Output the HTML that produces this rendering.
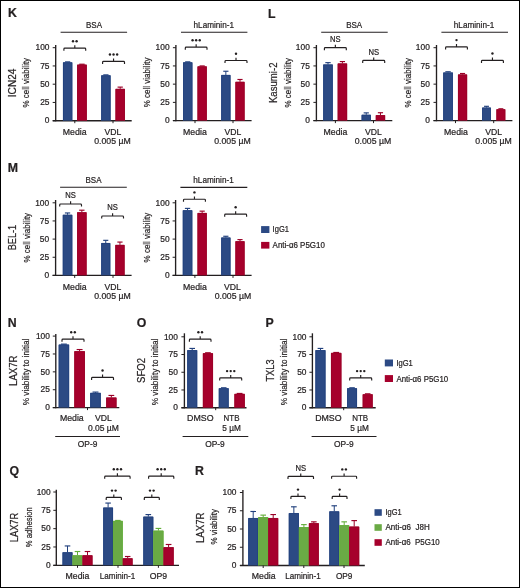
<!DOCTYPE html>
<html><head><meta charset="utf-8"><style>
html,body{margin:0;padding:0;background:#fff;}
body{width:520px;height:588px;overflow:hidden;position:relative;}
#frame{position:absolute;left:0;top:0;width:518px;height:586px;border:1px solid #000;}
svg{position:absolute;left:0;top:0;font-family:"Liberation Sans", sans-serif;will-change:transform;}
text{stroke:#231F20;stroke-width:0.22px;}
</style></head><body>
<div id="frame"></div>
<svg width="520" height="588" viewBox="0 0 520 588">
<text x="8.0" y="17.3" font-size="12.3" text-anchor="start" font-weight="bold" fill="#231F20">K</text>
<line x1="55.7" y1="45.0" x2="55.7" y2="121.3" stroke="#231F20" stroke-width="1.35"/>
<line x1="52.7" y1="120.7" x2="131.7" y2="120.7" stroke="#231F20" stroke-width="1.35"/>
<line x1="52.7" y1="120.7" x2="55.7" y2="120.7" stroke="#231F20" stroke-width="1.0"/>
<text x="49.5" y="123.4" font-size="8.4" text-anchor="end" fill="#231F20">0</text>
<line x1="52.7" y1="102.45" x2="55.7" y2="102.45" stroke="#231F20" stroke-width="1.0"/>
<text x="49.5" y="105.15" font-size="8.4" text-anchor="end" fill="#231F20">25</text>
<line x1="52.7" y1="84.2" x2="55.7" y2="84.2" stroke="#231F20" stroke-width="1.0"/>
<text x="49.5" y="86.9" font-size="8.4" text-anchor="end" fill="#231F20">50</text>
<line x1="52.7" y1="65.95" x2="55.7" y2="65.95" stroke="#231F20" stroke-width="1.0"/>
<text x="49.5" y="68.65" font-size="8.4" text-anchor="end" fill="#231F20">75</text>
<line x1="52.7" y1="47.7" x2="55.7" y2="47.7" stroke="#231F20" stroke-width="1.0"/>
<text x="49.5" y="50.400000000000006" font-size="8.4" text-anchor="end" fill="#231F20">100</text>
<rect x="63.00" y="62.30" width="9.30" height="58.40" fill="#2C4A84"/>
<path d="M63.40,120.70V62.70H71.90V120.70" fill="none" stroke="#21407D" stroke-width="0.8"/>
<rect x="65.05" y="61.30" width="5.21" height="1.2" fill="#21407D"/>
<rect x="77.10" y="64.64" width="9.70" height="56.06" fill="#A6002C"/>
<path d="M77.50,120.70V65.04H86.40V120.70" fill="none" stroke="#9A0027" stroke-width="0.8"/>
<rect x="79.23" y="63.64" width="5.43" height="1.2" fill="#9A0027"/>
<rect x="101.20" y="75.29" width="9.40" height="45.41" fill="#2C4A84"/>
<path d="M101.60,120.70V75.69H110.20V120.70" fill="none" stroke="#21407D" stroke-width="0.8"/>
<rect x="103.27" y="74.29" width="5.26" height="1.2" fill="#21407D"/>
<rect x="115.50" y="88.87" width="9.40" height="31.83" fill="#A6002C"/>
<path d="M115.90,120.70V89.27H124.50V120.70" fill="none" stroke="#9A0027" stroke-width="0.8"/>
<line x1="120.2" y1="88.872" x2="120.2" y2="87.12" stroke="#9A0027" stroke-width="1.0"/>
<line x1="117.568" y1="87.12" x2="122.83200000000001" y2="87.12" stroke="#9A0027" stroke-width="1.15"/>
<line x1="74.8" y1="120.7" x2="74.8" y2="123.2" stroke="#231F20" stroke-width="1.0"/>
<line x1="113.0" y1="120.7" x2="113.0" y2="123.2" stroke="#231F20" stroke-width="1.0"/>
<path d="M63.90,50.70 L63.90,49.00 Q63.90,48.10 64.80,48.10 L84.80,48.10 Q85.70,48.10 85.70,49.00 L85.70,50.70 M74.80,48.10 L74.80,45.30" fill="none" stroke="#231F20" stroke-width="1.15"/>
<circle cx="73.00" cy="41.30" r="1.2" fill="#231F20"/>
<circle cx="76.60" cy="41.30" r="1.2" fill="#231F20"/>
<path d="M102.60,63.95 L102.60,62.25 Q102.60,61.35 103.50,61.35 L123.60,61.35 Q124.50,61.35 124.50,62.25 L124.50,63.95 M113.55,61.35 L113.55,58.55" fill="none" stroke="#231F20" stroke-width="1.15"/>
<circle cx="109.95" cy="54.55" r="1.2" fill="#231F20"/>
<circle cx="113.55" cy="54.55" r="1.2" fill="#231F20"/>
<circle cx="117.15" cy="54.55" r="1.2" fill="#231F20"/>
<text x="94.0" y="27.6" font-size="8.8" text-anchor="middle" textLength="16.0" lengthAdjust="spacingAndGlyphs" fill="#231F20">BSA</text>
<line x1="60.6" y1="32.2" x2="127.1" y2="32.2" stroke="#231F20" stroke-width="1.1"/>
<text x="74.7" y="134.6" font-size="8.8" text-anchor="middle" textLength="23.8" lengthAdjust="spacingAndGlyphs" fill="#231F20">Media</text>
<text x="113.0" y="134.6" font-size="8.8" text-anchor="middle" textLength="16.8" lengthAdjust="spacingAndGlyphs" fill="#231F20">VDL</text>
<text x="112.5" y="144.4" font-size="8.8" text-anchor="middle" textLength="36.5" lengthAdjust="spacingAndGlyphs" fill="#231F20">0.005 µM</text>
<text transform="translate(15.8,82.9) rotate(-90)" font-size="10.1" text-anchor="middle" textLength="28.6" lengthAdjust="spacingAndGlyphs" fill="#231F20">ICN24</text>
<text transform="translate(28.8,82.7) rotate(-90)" font-size="9.8" text-anchor="middle" textLength="49.6" lengthAdjust="spacingAndGlyphs" fill="#231F20">% cell viability</text>
<line x1="175.9" y1="45.0" x2="175.9" y2="121.19999999999999" stroke="#231F20" stroke-width="1.35"/>
<line x1="172.9" y1="120.6" x2="251.6" y2="120.6" stroke="#231F20" stroke-width="1.35"/>
<line x1="172.9" y1="120.6" x2="175.9" y2="120.6" stroke="#231F20" stroke-width="1.0"/>
<text x="169.6" y="123.3" font-size="8.4" text-anchor="end" fill="#231F20">0</text>
<line x1="172.9" y1="102.375" x2="175.9" y2="102.375" stroke="#231F20" stroke-width="1.0"/>
<text x="169.6" y="105.075" font-size="8.4" text-anchor="end" fill="#231F20">25</text>
<line x1="172.9" y1="84.15" x2="175.9" y2="84.15" stroke="#231F20" stroke-width="1.0"/>
<text x="169.6" y="86.85000000000001" font-size="8.4" text-anchor="end" fill="#231F20">50</text>
<line x1="172.9" y1="65.92500000000001" x2="175.9" y2="65.92500000000001" stroke="#231F20" stroke-width="1.0"/>
<text x="169.6" y="68.62500000000001" font-size="8.4" text-anchor="end" fill="#231F20">75</text>
<line x1="172.9" y1="47.7" x2="175.9" y2="47.7" stroke="#231F20" stroke-width="1.0"/>
<text x="169.6" y="50.400000000000006" font-size="8.4" text-anchor="end" fill="#231F20">100</text>
<rect x="183.10" y="62.28" width="9.30" height="58.32" fill="#2C4A84"/>
<path d="M183.50,120.60V62.68H192.00V120.60" fill="none" stroke="#21407D" stroke-width="0.8"/>
<rect x="185.15" y="61.28" width="5.21" height="1.2" fill="#21407D"/>
<rect x="197.50" y="66.36" width="9.30" height="54.24" fill="#A6002C"/>
<path d="M197.90,120.60V66.76H206.40V120.60" fill="none" stroke="#9A0027" stroke-width="0.8"/>
<rect x="199.55" y="65.36" width="5.21" height="1.2" fill="#9A0027"/>
<rect x="221.20" y="74.96" width="9.30" height="45.64" fill="#2C4A84"/>
<path d="M221.60,120.60V75.36H230.10V120.60" fill="none" stroke="#21407D" stroke-width="0.8"/>
<line x1="225.85" y1="74.96459999999999" x2="225.85" y2="71.2467" stroke="#21407D" stroke-width="1.0"/>
<line x1="223.24599999999998" y1="71.2467" x2="228.454" y2="71.2467" stroke="#21407D" stroke-width="1.15"/>
<rect x="235.40" y="81.82" width="9.20" height="38.78" fill="#A6002C"/>
<path d="M235.80,120.60V82.22H244.20V120.60" fill="none" stroke="#9A0027" stroke-width="0.8"/>
<line x1="240.0" y1="81.8172" x2="240.0" y2="79.4844" stroke="#9A0027" stroke-width="1.0"/>
<line x1="237.424" y1="79.4844" x2="242.576" y2="79.4844" stroke="#9A0027" stroke-width="1.15"/>
<line x1="195.0" y1="120.6" x2="195.0" y2="123.1" stroke="#231F20" stroke-width="1.0"/>
<line x1="233.0" y1="120.6" x2="233.0" y2="123.1" stroke="#231F20" stroke-width="1.0"/>
<path d="M185.30,49.70 L185.30,48.00 Q185.30,47.10 186.20,47.10 L206.10,47.10 Q207.00,47.10 207.00,48.00 L207.00,49.70 M196.15,47.10 L196.15,44.30" fill="none" stroke="#231F20" stroke-width="1.15"/>
<circle cx="192.55" cy="40.30" r="1.2" fill="#231F20"/>
<circle cx="196.15" cy="40.30" r="1.2" fill="#231F20"/>
<circle cx="199.75" cy="40.30" r="1.2" fill="#231F20"/>
<path d="M225.00,63.10 L225.00,61.40 Q225.00,60.50 225.90,60.50 L246.10,60.50 Q247.00,60.50 247.00,61.40 L247.00,63.10 M236.00,60.50 L236.00,57.70" fill="none" stroke="#231F20" stroke-width="1.15"/>
<circle cx="236.00" cy="53.70" r="1.2" fill="#231F20"/>
<text x="213.75" y="27.7" font-size="8.8" text-anchor="middle" textLength="40.4" lengthAdjust="spacingAndGlyphs" fill="#231F20">hLaminin-1</text>
<line x1="181.0" y1="32.2" x2="247.4" y2="32.2" stroke="#231F20" stroke-width="1.1"/>
<text x="195.0" y="134.6" font-size="8.8" text-anchor="middle" textLength="23.8" lengthAdjust="spacingAndGlyphs" fill="#231F20">Media</text>
<text x="233.0" y="134.6" font-size="8.8" text-anchor="middle" textLength="16.8" lengthAdjust="spacingAndGlyphs" fill="#231F20">VDL</text>
<text x="232.5" y="144.4" font-size="8.8" text-anchor="middle" textLength="36.5" lengthAdjust="spacingAndGlyphs" fill="#231F20">0.005 µM</text>
<text transform="translate(150.1,82.4) rotate(-90)" font-size="9.8" text-anchor="middle" textLength="49.6" lengthAdjust="spacingAndGlyphs" fill="#231F20">% cell viability</text>
<text x="268.0" y="17.7" font-size="12.3" text-anchor="start" font-weight="bold" fill="#231F20">L</text>
<line x1="316.4" y1="45.0" x2="316.4" y2="121.19999999999999" stroke="#231F20" stroke-width="1.35"/>
<line x1="313.4" y1="120.6" x2="392.3" y2="120.6" stroke="#231F20" stroke-width="1.35"/>
<line x1="313.4" y1="120.6" x2="316.4" y2="120.6" stroke="#231F20" stroke-width="1.0"/>
<text x="309.8" y="123.3" font-size="8.4" text-anchor="end" fill="#231F20">0</text>
<line x1="313.4" y1="102.375" x2="316.4" y2="102.375" stroke="#231F20" stroke-width="1.0"/>
<text x="309.8" y="105.075" font-size="8.4" text-anchor="end" fill="#231F20">25</text>
<line x1="313.4" y1="84.15" x2="316.4" y2="84.15" stroke="#231F20" stroke-width="1.0"/>
<text x="309.8" y="86.85000000000001" font-size="8.4" text-anchor="end" fill="#231F20">50</text>
<line x1="313.4" y1="65.92500000000001" x2="316.4" y2="65.92500000000001" stroke="#231F20" stroke-width="1.0"/>
<text x="309.8" y="68.62500000000001" font-size="8.4" text-anchor="end" fill="#231F20">75</text>
<line x1="313.4" y1="47.7" x2="316.4" y2="47.7" stroke="#231F20" stroke-width="1.0"/>
<text x="309.8" y="50.400000000000006" font-size="8.4" text-anchor="end" fill="#231F20">100</text>
<rect x="323.20" y="64.47" width="9.60" height="56.13" fill="#2C4A84"/>
<path d="M323.60,120.60V64.87H332.40V120.60" fill="none" stroke="#21407D" stroke-width="0.8"/>
<line x1="328.0" y1="64.467" x2="328.0" y2="62.6445" stroke="#21407D" stroke-width="1.0"/>
<line x1="325.312" y1="62.6445" x2="330.688" y2="62.6445" stroke="#21407D" stroke-width="1.15"/>
<rect x="337.70" y="63.45" width="9.40" height="57.15" fill="#A6002C"/>
<path d="M338.10,120.60V63.85H346.70V120.60" fill="none" stroke="#9A0027" stroke-width="0.8"/>
<line x1="342.4" y1="63.4464" x2="342.4" y2="61.550999999999995" stroke="#9A0027" stroke-width="1.0"/>
<line x1="339.768" y1="61.550999999999995" x2="345.032" y2="61.550999999999995" stroke="#9A0027" stroke-width="1.15"/>
<rect x="361.60" y="114.77" width="9.30" height="5.83" fill="#2C4A84"/>
<path d="M362.00,120.60V115.17H370.50V120.60" fill="none" stroke="#21407D" stroke-width="0.8"/>
<line x1="366.25" y1="114.768" x2="366.25" y2="112.87259999999999" stroke="#21407D" stroke-width="1.0"/>
<line x1="363.646" y1="112.87259999999999" x2="368.854" y2="112.87259999999999" stroke="#21407D" stroke-width="1.15"/>
<rect x="375.80" y="115.13" width="9.30" height="5.47" fill="#A6002C"/>
<path d="M376.20,120.60V115.53H384.70V120.60" fill="none" stroke="#9A0027" stroke-width="0.8"/>
<line x1="380.45000000000005" y1="115.1325" x2="380.45000000000005" y2="112.7268" stroke="#9A0027" stroke-width="1.0"/>
<line x1="377.84600000000006" y1="112.7268" x2="383.05400000000003" y2="112.7268" stroke="#9A0027" stroke-width="1.15"/>
<line x1="335.4" y1="120.6" x2="335.4" y2="123.1" stroke="#231F20" stroke-width="1.0"/>
<line x1="373.5" y1="120.6" x2="373.5" y2="123.1" stroke="#231F20" stroke-width="1.0"/>
<path d="M324.40,50.20 L324.40,48.50 Q324.40,47.60 325.30,47.60 L345.40,47.60 Q346.30,47.60 346.30,48.50 L346.30,50.20 M335.35,47.60 L335.35,44.80" fill="none" stroke="#231F20" stroke-width="1.15"/>
<text x="335.35" y="42.0" font-size="8.4" text-anchor="middle" textLength="10.6" lengthAdjust="spacingAndGlyphs" fill="#231F20">NS</text>
<path d="M362.70,62.90 L362.70,61.20 Q362.70,60.30 363.60,60.30 L383.80,60.30 Q384.70,60.30 384.70,61.20 L384.70,62.90 M373.70,60.30 L373.70,57.50" fill="none" stroke="#231F20" stroke-width="1.15"/>
<text x="373.7" y="54.699999999999996" font-size="8.4" text-anchor="middle" textLength="10.6" lengthAdjust="spacingAndGlyphs" fill="#231F20">NS</text>
<text x="354.2" y="27.6" font-size="8.8" text-anchor="middle" textLength="16.0" lengthAdjust="spacingAndGlyphs" fill="#231F20">BSA</text>
<line x1="321.2" y1="32.2" x2="387.7" y2="32.2" stroke="#231F20" stroke-width="1.1"/>
<text x="335.4" y="134.6" font-size="8.8" text-anchor="middle" textLength="23.8" lengthAdjust="spacingAndGlyphs" fill="#231F20">Media</text>
<text x="373.5" y="134.6" font-size="8.8" text-anchor="middle" textLength="16.8" lengthAdjust="spacingAndGlyphs" fill="#231F20">VDL</text>
<text x="373.0" y="144.4" font-size="8.8" text-anchor="middle" textLength="36.5" lengthAdjust="spacingAndGlyphs" fill="#231F20">0.005 µM</text>
<text transform="translate(276.6,82.75) rotate(-90)" font-size="10.0" text-anchor="middle" textLength="40.6" lengthAdjust="spacingAndGlyphs" fill="#231F20">Kasumi-2</text>
<text transform="translate(290.7,82.75) rotate(-90)" font-size="9.8" text-anchor="middle" textLength="49.6" lengthAdjust="spacingAndGlyphs" fill="#231F20">% cell viability</text>
<line x1="436.5" y1="45.0" x2="436.5" y2="121.19999999999999" stroke="#231F20" stroke-width="1.35"/>
<line x1="433.5" y1="120.6" x2="512.4" y2="120.6" stroke="#231F20" stroke-width="1.35"/>
<line x1="433.5" y1="120.6" x2="436.5" y2="120.6" stroke="#231F20" stroke-width="1.0"/>
<text x="429.8" y="123.3" font-size="8.4" text-anchor="end" fill="#231F20">0</text>
<line x1="433.5" y1="102.375" x2="436.5" y2="102.375" stroke="#231F20" stroke-width="1.0"/>
<text x="429.8" y="105.075" font-size="8.4" text-anchor="end" fill="#231F20">25</text>
<line x1="433.5" y1="84.15" x2="436.5" y2="84.15" stroke="#231F20" stroke-width="1.0"/>
<text x="429.8" y="86.85000000000001" font-size="8.4" text-anchor="end" fill="#231F20">50</text>
<line x1="433.5" y1="65.92500000000001" x2="436.5" y2="65.92500000000001" stroke="#231F20" stroke-width="1.0"/>
<text x="429.8" y="68.62500000000001" font-size="8.4" text-anchor="end" fill="#231F20">75</text>
<line x1="433.5" y1="47.7" x2="436.5" y2="47.7" stroke="#231F20" stroke-width="1.0"/>
<text x="429.8" y="50.400000000000006" font-size="8.4" text-anchor="end" fill="#231F20">100</text>
<rect x="443.20" y="72.49" width="9.70" height="48.11" fill="#2C4A84"/>
<path d="M443.60,120.60V72.89H452.50V120.60" fill="none" stroke="#21407D" stroke-width="0.8"/>
<line x1="448.04999999999995" y1="72.48599999999999" x2="448.04999999999995" y2="71.757" stroke="#21407D" stroke-width="1.0"/>
<line x1="445.33399999999995" y1="71.757" x2="450.76599999999996" y2="71.757" stroke="#21407D" stroke-width="1.15"/>
<rect x="458.00" y="74.45" width="9.10" height="46.15" fill="#A6002C"/>
<path d="M458.40,120.60V74.85H466.70V120.60" fill="none" stroke="#9A0027" stroke-width="0.8"/>
<line x1="462.55" y1="74.4543" x2="462.55" y2="73.50659999999999" stroke="#9A0027" stroke-width="1.0"/>
<line x1="460.002" y1="73.50659999999999" x2="465.098" y2="73.50659999999999" stroke="#9A0027" stroke-width="1.15"/>
<rect x="482.10" y="107.55" width="8.80" height="13.05" fill="#2C4A84"/>
<path d="M482.50,120.60V107.95H490.50V120.60" fill="none" stroke="#21407D" stroke-width="0.8"/>
<line x1="486.5" y1="107.5509" x2="486.5" y2="106.3116" stroke="#21407D" stroke-width="1.0"/>
<line x1="484.036" y1="106.3116" x2="488.964" y2="106.3116" stroke="#21407D" stroke-width="1.15"/>
<rect x="496.40" y="109.23" width="8.90" height="11.37" fill="#A6002C"/>
<path d="M496.80,120.60V109.63H504.90V120.60" fill="none" stroke="#9A0027" stroke-width="0.8"/>
<line x1="500.85" y1="109.2276" x2="500.85" y2="108.7902" stroke="#9A0027" stroke-width="1.0"/>
<line x1="498.358" y1="108.7902" x2="503.34200000000004" y2="108.7902" stroke="#9A0027" stroke-width="1.15"/>
<line x1="455.5" y1="120.6" x2="455.5" y2="123.1" stroke="#231F20" stroke-width="1.0"/>
<line x1="493.7" y1="120.6" x2="493.7" y2="123.1" stroke="#231F20" stroke-width="1.0"/>
<path d="M445.60,49.50 L445.60,47.80 Q445.60,46.90 446.50,46.90 L466.50,46.90 Q467.40,46.90 467.40,47.80 L467.40,49.50 M456.50,46.90 L456.50,44.10" fill="none" stroke="#231F20" stroke-width="1.15"/>
<circle cx="456.50" cy="40.10" r="1.2" fill="#231F20"/>
<path d="M481.50,62.90 L481.50,61.20 Q481.50,60.30 482.40,60.30 L502.50,60.30 Q503.40,60.30 503.40,61.20 L503.40,62.90 M492.45,60.30 L492.45,57.50" fill="none" stroke="#231F20" stroke-width="1.15"/>
<circle cx="492.45" cy="53.50" r="1.2" fill="#231F20"/>
<text x="474.0" y="27.7" font-size="8.8" text-anchor="middle" textLength="40.4" lengthAdjust="spacingAndGlyphs" fill="#231F20">hLaminin-1</text>
<line x1="441.4" y1="32.2" x2="508.0" y2="32.2" stroke="#231F20" stroke-width="1.1"/>
<text x="455.9" y="134.6" font-size="8.8" text-anchor="middle" textLength="23.8" lengthAdjust="spacingAndGlyphs" fill="#231F20">Media</text>
<text x="493.7" y="134.6" font-size="8.8" text-anchor="middle" textLength="16.8" lengthAdjust="spacingAndGlyphs" fill="#231F20">VDL</text>
<text x="493.6" y="144.4" font-size="8.8" text-anchor="middle" textLength="36.5" lengthAdjust="spacingAndGlyphs" fill="#231F20">0.005 µM</text>
<text transform="translate(411.0,82.7) rotate(-90)" font-size="9.8" text-anchor="middle" textLength="49.6" lengthAdjust="spacingAndGlyphs" fill="#231F20">% cell viability</text>
<text x="7.8" y="172.0" font-size="12.3" text-anchor="start" font-weight="bold" fill="#231F20">M</text>
<line x1="55.6" y1="200.0" x2="55.6" y2="276.0" stroke="#231F20" stroke-width="1.35"/>
<line x1="52.6" y1="275.4" x2="131.6" y2="275.4" stroke="#231F20" stroke-width="1.35"/>
<line x1="52.6" y1="275.4" x2="55.6" y2="275.4" stroke="#231F20" stroke-width="1.0"/>
<text x="49.2" y="278.09999999999997" font-size="8.4" text-anchor="end" fill="#231F20">0</text>
<line x1="52.6" y1="257.25" x2="55.6" y2="257.25" stroke="#231F20" stroke-width="1.0"/>
<text x="49.2" y="259.95" font-size="8.4" text-anchor="end" fill="#231F20">25</text>
<line x1="52.6" y1="239.1" x2="55.6" y2="239.1" stroke="#231F20" stroke-width="1.0"/>
<text x="49.2" y="241.79999999999998" font-size="8.4" text-anchor="end" fill="#231F20">50</text>
<line x1="52.6" y1="220.95" x2="55.6" y2="220.95" stroke="#231F20" stroke-width="1.0"/>
<text x="49.2" y="223.64999999999998" font-size="8.4" text-anchor="end" fill="#231F20">75</text>
<line x1="52.6" y1="202.8" x2="55.6" y2="202.8" stroke="#231F20" stroke-width="1.0"/>
<text x="49.2" y="205.5" font-size="8.4" text-anchor="end" fill="#231F20">100</text>
<rect x="62.80" y="214.78" width="9.50" height="60.62" fill="#2C4A84"/>
<path d="M63.20,275.40V215.18H71.90V275.40" fill="none" stroke="#21407D" stroke-width="0.8"/>
<line x1="67.55" y1="214.779" x2="67.55" y2="212.964" stroke="#21407D" stroke-width="1.0"/>
<line x1="64.89" y1="212.964" x2="70.21" y2="212.964" stroke="#21407D" stroke-width="1.15"/>
<rect x="77.10" y="212.24" width="9.50" height="63.16" fill="#A6002C"/>
<path d="M77.50,275.40V212.64H86.20V275.40" fill="none" stroke="#9A0027" stroke-width="0.8"/>
<line x1="81.85" y1="212.238" x2="81.85" y2="210.2052" stroke="#9A0027" stroke-width="1.0"/>
<line x1="79.19" y1="210.2052" x2="84.50999999999999" y2="210.2052" stroke="#9A0027" stroke-width="1.15"/>
<rect x="101.20" y="243.02" width="9.10" height="32.38" fill="#2C4A84"/>
<path d="M101.60,275.40V243.42H109.90V275.40" fill="none" stroke="#21407D" stroke-width="0.8"/>
<line x1="105.75" y1="243.0204" x2="105.75" y2="240.3342" stroke="#21407D" stroke-width="1.0"/>
<line x1="103.202" y1="240.3342" x2="108.298" y2="240.3342" stroke="#21407D" stroke-width="1.15"/>
<rect x="115.30" y="244.91" width="9.30" height="30.49" fill="#A6002C"/>
<path d="M115.70,275.40V245.31H124.20V275.40" fill="none" stroke="#9A0027" stroke-width="0.8"/>
<line x1="119.94999999999999" y1="244.908" x2="119.94999999999999" y2="242.07659999999998" stroke="#9A0027" stroke-width="1.0"/>
<line x1="117.34599999999999" y1="242.07659999999998" x2="122.55399999999999" y2="242.07659999999998" stroke="#9A0027" stroke-width="1.15"/>
<line x1="74.7" y1="275.4" x2="74.7" y2="277.9" stroke="#231F20" stroke-width="1.0"/>
<line x1="113.0" y1="275.4" x2="113.0" y2="277.9" stroke="#231F20" stroke-width="1.0"/>
<path d="M59.70,206.60 L59.70,204.90 Q59.70,204.00 60.60,204.00 L80.60,204.00 Q81.50,204.00 81.50,204.90 L81.50,206.60 M70.60,204.00 L70.60,201.20" fill="none" stroke="#231F20" stroke-width="1.15"/>
<text x="70.6" y="198.4" font-size="8.4" text-anchor="middle" textLength="10.6" lengthAdjust="spacingAndGlyphs" fill="#231F20">NS</text>
<path d="M101.70,218.60 L101.70,216.90 Q101.70,216.00 102.60,216.00 L122.60,216.00 Q123.50,216.00 123.50,216.90 L123.50,218.60 M112.60,216.00 L112.60,213.20" fill="none" stroke="#231F20" stroke-width="1.15"/>
<text x="112.6" y="210.4" font-size="8.4" text-anchor="middle" textLength="10.6" lengthAdjust="spacingAndGlyphs" fill="#231F20">NS</text>
<text x="93.5" y="182.6" font-size="8.8" text-anchor="middle" textLength="16.0" lengthAdjust="spacingAndGlyphs" fill="#231F20">BSA</text>
<line x1="60.1" y1="187.3" x2="126.8" y2="187.3" stroke="#231F20" stroke-width="1.1"/>
<text x="74.7" y="289.7" font-size="8.8" text-anchor="middle" textLength="23.8" lengthAdjust="spacingAndGlyphs" fill="#231F20">Media</text>
<text x="113.0" y="289.7" font-size="8.8" text-anchor="middle" textLength="16.8" lengthAdjust="spacingAndGlyphs" fill="#231F20">VDL</text>
<text x="112.5" y="299.3" font-size="8.8" text-anchor="middle" textLength="36.5" lengthAdjust="spacingAndGlyphs" fill="#231F20">0.005 µM</text>
<text transform="translate(15.6,237.6) rotate(-90)" font-size="10.0" text-anchor="middle" textLength="25.4" lengthAdjust="spacingAndGlyphs" fill="#231F20">BEL-1</text>
<text transform="translate(30.3,237.7) rotate(-90)" font-size="9.8" text-anchor="middle" textLength="49.6" lengthAdjust="spacingAndGlyphs" fill="#231F20">% cell viability</text>
<line x1="175.6" y1="200.0" x2="175.6" y2="276.0" stroke="#231F20" stroke-width="1.35"/>
<line x1="172.6" y1="275.4" x2="251.6" y2="275.4" stroke="#231F20" stroke-width="1.35"/>
<line x1="172.6" y1="275.4" x2="175.6" y2="275.4" stroke="#231F20" stroke-width="1.0"/>
<text x="169.6" y="278.09999999999997" font-size="8.4" text-anchor="end" fill="#231F20">0</text>
<line x1="172.6" y1="257.25" x2="175.6" y2="257.25" stroke="#231F20" stroke-width="1.0"/>
<text x="169.6" y="259.95" font-size="8.4" text-anchor="end" fill="#231F20">25</text>
<line x1="172.6" y1="239.1" x2="175.6" y2="239.1" stroke="#231F20" stroke-width="1.0"/>
<text x="169.6" y="241.79999999999998" font-size="8.4" text-anchor="end" fill="#231F20">50</text>
<line x1="172.6" y1="220.95" x2="175.6" y2="220.95" stroke="#231F20" stroke-width="1.0"/>
<text x="169.6" y="223.64999999999998" font-size="8.4" text-anchor="end" fill="#231F20">75</text>
<line x1="172.6" y1="202.8" x2="175.6" y2="202.8" stroke="#231F20" stroke-width="1.0"/>
<text x="169.6" y="205.5" font-size="8.4" text-anchor="end" fill="#231F20">100</text>
<rect x="182.80" y="210.21" width="9.50" height="65.19" fill="#2C4A84"/>
<path d="M183.20,275.40V210.61H191.90V275.40" fill="none" stroke="#21407D" stroke-width="0.8"/>
<line x1="187.55" y1="210.2052" x2="187.55" y2="208.3902" stroke="#21407D" stroke-width="1.0"/>
<line x1="184.89000000000001" y1="208.3902" x2="190.21" y2="208.3902" stroke="#21407D" stroke-width="1.15"/>
<rect x="197.50" y="212.96" width="9.30" height="62.44" fill="#A6002C"/>
<path d="M197.90,275.40V213.36H206.40V275.40" fill="none" stroke="#9A0027" stroke-width="0.8"/>
<line x1="202.15" y1="212.964" x2="202.15" y2="211.149" stroke="#9A0027" stroke-width="1.0"/>
<line x1="199.546" y1="211.149" x2="204.75400000000002" y2="211.149" stroke="#9A0027" stroke-width="1.15"/>
<rect x="221.20" y="237.50" width="9.30" height="37.90" fill="#2C4A84"/>
<path d="M221.60,275.40V237.90H230.10V275.40" fill="none" stroke="#21407D" stroke-width="0.8"/>
<line x1="225.85" y1="237.50279999999998" x2="225.85" y2="236.2686" stroke="#21407D" stroke-width="1.0"/>
<line x1="223.24599999999998" y1="236.2686" x2="228.454" y2="236.2686" stroke="#21407D" stroke-width="1.15"/>
<rect x="235.40" y="241.21" width="9.20" height="34.19" fill="#A6002C"/>
<path d="M235.80,275.40V241.61H244.20V275.40" fill="none" stroke="#9A0027" stroke-width="0.8"/>
<line x1="240.0" y1="241.2054" x2="240.0" y2="239.6082" stroke="#9A0027" stroke-width="1.0"/>
<line x1="237.424" y1="239.6082" x2="242.576" y2="239.6082" stroke="#9A0027" stroke-width="1.15"/>
<line x1="194.9" y1="275.4" x2="194.9" y2="277.9" stroke="#231F20" stroke-width="1.0"/>
<line x1="233.0" y1="275.4" x2="233.0" y2="277.9" stroke="#231F20" stroke-width="1.0"/>
<path d="M183.50,201.80 L183.50,200.10 Q183.50,199.20 184.40,199.20 L204.50,199.20 Q205.40,199.20 205.40,200.10 L205.40,201.80 M194.45,199.20 L194.45,196.40" fill="none" stroke="#231F20" stroke-width="1.15"/>
<circle cx="194.45" cy="192.40" r="1.2" fill="#231F20"/>
<path d="M224.70,216.70 L224.70,215.00 Q224.70,214.10 225.60,214.10 L245.70,214.10 Q246.60,214.10 246.60,215.00 L246.60,216.70 M235.65,214.10 L235.65,211.30" fill="none" stroke="#231F20" stroke-width="1.15"/>
<circle cx="235.65" cy="207.30" r="1.2" fill="#231F20"/>
<text x="213.5" y="182.7" font-size="8.8" text-anchor="middle" textLength="40.4" lengthAdjust="spacingAndGlyphs" fill="#231F20">hLaminin-1</text>
<line x1="180.4" y1="187.4" x2="247.3" y2="187.4" stroke="#231F20" stroke-width="1.1"/>
<text x="194.9" y="289.7" font-size="8.8" text-anchor="middle" textLength="23.8" lengthAdjust="spacingAndGlyphs" fill="#231F20">Media</text>
<text x="232.5" y="289.7" font-size="8.8" text-anchor="middle" textLength="16.8" lengthAdjust="spacingAndGlyphs" fill="#231F20">VDL</text>
<text x="233.0" y="299.3" font-size="8.8" text-anchor="middle" textLength="36.5" lengthAdjust="spacingAndGlyphs" fill="#231F20">0.005 µM</text>
<text transform="translate(150.3,237.6) rotate(-90)" font-size="9.8" text-anchor="middle" textLength="49.6" lengthAdjust="spacingAndGlyphs" fill="#231F20">% cell viability</text>
<rect x="261.10" y="226.10" width="8.30" height="6.90" fill="#2C4A84"/>
<text x="272.6" y="232.3" font-size="8.4" text-anchor="start" textLength="16.4" lengthAdjust="spacingAndGlyphs" fill="#231F20">IgG1</text>
<rect x="261.10" y="241.90" width="8.30" height="6.70" fill="#A6002C"/>
<text x="272.6" y="248.2" font-size="8.4" text-anchor="start" textLength="52.2" lengthAdjust="spacingAndGlyphs" fill="#231F20">Anti-α6 P5G10</text>
<text x="7.8" y="327.3" font-size="12.3" text-anchor="start" font-weight="bold" fill="#231F20">N</text>
<line x1="55.8" y1="334.0" x2="55.8" y2="408.20000000000005" stroke="#231F20" stroke-width="1.35"/>
<line x1="52.8" y1="407.6" x2="119.3" y2="407.6" stroke="#231F20" stroke-width="1.35"/>
<line x1="52.8" y1="407.6" x2="55.8" y2="407.6" stroke="#231F20" stroke-width="1.0"/>
<text x="49.9" y="410.3" font-size="8.4" text-anchor="end" fill="#231F20">0</text>
<line x1="52.8" y1="389.725" x2="55.8" y2="389.725" stroke="#231F20" stroke-width="1.0"/>
<text x="49.9" y="392.425" font-size="8.4" text-anchor="end" fill="#231F20">25</text>
<line x1="52.8" y1="371.85" x2="55.8" y2="371.85" stroke="#231F20" stroke-width="1.0"/>
<text x="49.9" y="374.55" font-size="8.4" text-anchor="end" fill="#231F20">50</text>
<line x1="52.8" y1="353.975" x2="55.8" y2="353.975" stroke="#231F20" stroke-width="1.0"/>
<text x="49.9" y="356.675" font-size="8.4" text-anchor="end" fill="#231F20">75</text>
<line x1="52.8" y1="336.1" x2="55.8" y2="336.1" stroke="#231F20" stroke-width="1.0"/>
<text x="49.9" y="338.8" font-size="8.4" text-anchor="end" fill="#231F20">100</text>
<rect x="58.70" y="344.54" width="10.40" height="63.06" fill="#2C4A84"/>
<path d="M59.10,407.60V344.94H68.70V407.60" fill="none" stroke="#21407D" stroke-width="0.8"/>
<rect x="60.99" y="343.54" width="5.82" height="1.2" fill="#21407D"/>
<rect x="74.30" y="351.19" width="10.60" height="56.41" fill="#A6002C"/>
<path d="M74.70,407.60V351.59H84.50V407.60" fill="none" stroke="#9A0027" stroke-width="0.8"/>
<line x1="79.6" y1="351.1865" x2="79.6" y2="349.54200000000003" stroke="#9A0027" stroke-width="1.0"/>
<line x1="76.63199999999999" y1="349.54200000000003" x2="82.568" y2="349.54200000000003" stroke="#9A0027" stroke-width="1.15"/>
<rect x="90.20" y="392.87" width="10.60" height="14.73" fill="#2C4A84"/>
<path d="M90.60,407.60V393.27H100.40V407.60" fill="none" stroke="#21407D" stroke-width="0.8"/>
<line x1="95.5" y1="392.87100000000004" x2="95.5" y2="392.08450000000005" stroke="#21407D" stroke-width="1.0"/>
<line x1="92.532" y1="392.08450000000005" x2="98.468" y2="392.08450000000005" stroke="#21407D" stroke-width="1.15"/>
<rect x="106.20" y="397.52" width="10.30" height="10.08" fill="#A6002C"/>
<path d="M106.60,407.60V397.92H116.10V407.60" fill="none" stroke="#9A0027" stroke-width="0.8"/>
<line x1="111.35" y1="397.5185" x2="111.35" y2="395.44500000000005" stroke="#9A0027" stroke-width="1.0"/>
<line x1="108.466" y1="395.44500000000005" x2="114.234" y2="395.44500000000005" stroke="#9A0027" stroke-width="1.15"/>
<line x1="87.5" y1="407.6" x2="87.5" y2="410.1" stroke="#231F20" stroke-width="1.0"/>
<path d="M62.00,341.70 L62.00,340.00 Q62.00,339.10 62.90,339.10 L83.10,339.10 Q84.00,339.10 84.00,340.00 L84.00,341.70 M73.00,339.10 L73.00,336.30" fill="none" stroke="#231F20" stroke-width="1.15"/>
<circle cx="71.20" cy="332.30" r="1.2" fill="#231F20"/>
<circle cx="74.80" cy="332.30" r="1.2" fill="#231F20"/>
<path d="M91.60,379.95 L91.60,378.25 Q91.60,377.35 92.50,377.35 L112.60,377.35 Q113.50,377.35 113.50,378.25 L113.50,379.95 M102.55,377.35 L102.55,374.55" fill="none" stroke="#231F20" stroke-width="1.15"/>
<circle cx="102.55" cy="370.55" r="1.2" fill="#231F20"/>
<text x="71.8" y="421.3" font-size="8.8" text-anchor="middle" textLength="23.8" lengthAdjust="spacingAndGlyphs" fill="#231F20">Media</text>
<text x="103.3" y="421.3" font-size="8.8" text-anchor="middle" textLength="16.8" lengthAdjust="spacingAndGlyphs" fill="#231F20">VDL</text>
<text x="103.4" y="431.3" font-size="8.8" text-anchor="middle" textLength="31.0" lengthAdjust="spacingAndGlyphs" fill="#231F20">0.05 µM</text>
<line x1="55.2" y1="436.5" x2="120.0" y2="436.5" stroke="#231F20" stroke-width="1.1"/>
<text x="87.6" y="446.6" font-size="8.8" text-anchor="middle" textLength="19.6" lengthAdjust="spacingAndGlyphs" fill="#231F20">OP-9</text>
<text transform="translate(16.6,370.7) rotate(-90)" font-size="10.0" text-anchor="middle" textLength="30.4" lengthAdjust="spacingAndGlyphs" fill="#231F20">LAX7R</text>
<text transform="translate(29.4,371.9) rotate(-90)" font-size="9.8" text-anchor="middle" textLength="66.8" lengthAdjust="spacingAndGlyphs" fill="#231F20">% viability to initial</text>
<text x="136.7" y="327.3" font-size="12.3" text-anchor="start" font-weight="bold" fill="#231F20">O</text>
<line x1="184.4" y1="333.3" x2="184.4" y2="408.3" stroke="#231F20" stroke-width="1.35"/>
<line x1="181.4" y1="407.7" x2="246.5" y2="407.7" stroke="#231F20" stroke-width="1.35"/>
<line x1="181.4" y1="407.7" x2="184.4" y2="407.7" stroke="#231F20" stroke-width="1.0"/>
<text x="177.9" y="410.4" font-size="8.4" text-anchor="end" fill="#231F20">0</text>
<line x1="181.4" y1="389.975" x2="184.4" y2="389.975" stroke="#231F20" stroke-width="1.0"/>
<text x="177.9" y="392.675" font-size="8.4" text-anchor="end" fill="#231F20">25</text>
<line x1="181.4" y1="372.25" x2="184.4" y2="372.25" stroke="#231F20" stroke-width="1.0"/>
<text x="177.9" y="374.95" font-size="8.4" text-anchor="end" fill="#231F20">50</text>
<line x1="181.4" y1="354.525" x2="184.4" y2="354.525" stroke="#231F20" stroke-width="1.0"/>
<text x="177.9" y="357.22499999999997" font-size="8.4" text-anchor="end" fill="#231F20">75</text>
<line x1="181.4" y1="336.8" x2="184.4" y2="336.8" stroke="#231F20" stroke-width="1.0"/>
<text x="177.9" y="339.5" font-size="8.4" text-anchor="end" fill="#231F20">100</text>
<rect x="187.20" y="350.13" width="10.00" height="57.57" fill="#2C4A84"/>
<path d="M187.60,407.70V350.53H196.80V407.70" fill="none" stroke="#21407D" stroke-width="0.8"/>
<line x1="192.2" y1="350.1292" x2="192.2" y2="348.4276" stroke="#21407D" stroke-width="1.0"/>
<line x1="189.39999999999998" y1="348.4276" x2="195.0" y2="348.4276" stroke="#21407D" stroke-width="1.15"/>
<rect x="202.90" y="353.18" width="10.10" height="54.52" fill="#A6002C"/>
<path d="M203.30,407.70V353.58H212.60V407.70" fill="none" stroke="#9A0027" stroke-width="0.8"/>
<rect x="205.12" y="352.18" width="5.66" height="1.2" fill="#9A0027"/>
<rect x="218.80" y="388.20" width="9.90" height="19.50" fill="#2C4A84"/>
<path d="M219.20,407.70V388.60H228.30V407.70" fill="none" stroke="#21407D" stroke-width="0.8"/>
<rect x="220.98" y="387.20" width="5.54" height="1.2" fill="#21407D"/>
<rect x="234.40" y="393.87" width="10.40" height="13.83" fill="#A6002C"/>
<path d="M234.80,407.70V394.27H244.40V407.70" fill="none" stroke="#9A0027" stroke-width="0.8"/>
<rect x="236.69" y="392.87" width="5.82" height="1.2" fill="#9A0027"/>
<line x1="215.7" y1="407.7" x2="215.7" y2="410.2" stroke="#231F20" stroke-width="1.0"/>
<path d="M189.40,341.70 L189.40,340.00 Q189.40,339.10 190.30,339.10 L210.10,339.10 Q211.00,339.10 211.00,340.00 L211.00,341.70 M200.20,339.10 L200.20,336.30" fill="none" stroke="#231F20" stroke-width="1.15"/>
<circle cx="198.40" cy="332.30" r="1.2" fill="#231F20"/>
<circle cx="202.00" cy="332.30" r="1.2" fill="#231F20"/>
<path d="M219.70,380.50 L219.70,378.80 Q219.70,377.90 220.60,377.90 L240.80,377.90 Q241.70,377.90 241.70,378.80 L241.70,380.50 M230.70,377.90 L230.70,375.10" fill="none" stroke="#231F20" stroke-width="1.15"/>
<circle cx="227.10" cy="371.10" r="1.2" fill="#231F20"/>
<circle cx="230.70" cy="371.10" r="1.2" fill="#231F20"/>
<circle cx="234.30" cy="371.10" r="1.2" fill="#231F20"/>
<text x="200.3" y="421.3" font-size="8.8" text-anchor="middle" textLength="26.4" lengthAdjust="spacingAndGlyphs" fill="#231F20">DMSO</text>
<text x="231.5" y="421.3" font-size="8.8" text-anchor="middle" textLength="15.9" lengthAdjust="spacingAndGlyphs" fill="#231F20">NTB</text>
<text x="231.5" y="431.3" font-size="8.8" text-anchor="middle" textLength="18.5" lengthAdjust="spacingAndGlyphs" fill="#231F20">5 µM</text>
<line x1="182.6" y1="436.5" x2="248.3" y2="436.5" stroke="#231F20" stroke-width="1.1"/>
<text x="215.0" y="446.6" font-size="8.8" text-anchor="middle" textLength="19.6" lengthAdjust="spacingAndGlyphs" fill="#231F20">OP-9</text>
<text transform="translate(144.9,370.5) rotate(-90)" font-size="10.0" text-anchor="middle" textLength="25.0" lengthAdjust="spacingAndGlyphs" fill="#231F20">SFO2</text>
<text transform="translate(158.0,371.9) rotate(-90)" font-size="9.8" text-anchor="middle" textLength="66.8" lengthAdjust="spacingAndGlyphs" fill="#231F20">% viability to initial</text>
<text x="265.4" y="327.3" font-size="12.3" text-anchor="start" font-weight="bold" fill="#231F20">P</text>
<line x1="312.4" y1="333.3" x2="312.4" y2="408.3" stroke="#231F20" stroke-width="1.35"/>
<line x1="309.4" y1="407.7" x2="375.7" y2="407.7" stroke="#231F20" stroke-width="1.35"/>
<line x1="309.4" y1="407.7" x2="312.4" y2="407.7" stroke="#231F20" stroke-width="1.0"/>
<text x="306.5" y="410.4" font-size="8.4" text-anchor="end" fill="#231F20">0</text>
<line x1="309.4" y1="389.975" x2="312.4" y2="389.975" stroke="#231F20" stroke-width="1.0"/>
<text x="306.5" y="392.675" font-size="8.4" text-anchor="end" fill="#231F20">25</text>
<line x1="309.4" y1="372.25" x2="312.4" y2="372.25" stroke="#231F20" stroke-width="1.0"/>
<text x="306.5" y="374.95" font-size="8.4" text-anchor="end" fill="#231F20">50</text>
<line x1="309.4" y1="354.525" x2="312.4" y2="354.525" stroke="#231F20" stroke-width="1.0"/>
<text x="306.5" y="357.22499999999997" font-size="8.4" text-anchor="end" fill="#231F20">75</text>
<line x1="309.4" y1="336.8" x2="312.4" y2="336.8" stroke="#231F20" stroke-width="1.0"/>
<text x="306.5" y="339.5" font-size="8.4" text-anchor="end" fill="#231F20">100</text>
<rect x="315.40" y="350.13" width="10.10" height="57.57" fill="#2C4A84"/>
<path d="M315.80,407.70V350.53H325.10V407.70" fill="none" stroke="#21407D" stroke-width="0.8"/>
<line x1="320.45" y1="350.1292" x2="320.45" y2="348.4276" stroke="#21407D" stroke-width="1.0"/>
<line x1="317.62199999999996" y1="348.4276" x2="323.278" y2="348.4276" stroke="#21407D" stroke-width="1.15"/>
<rect x="331.00" y="352.89" width="10.40" height="54.81" fill="#A6002C"/>
<path d="M331.40,407.70V353.29H341.00V407.70" fill="none" stroke="#9A0027" stroke-width="0.8"/>
<rect x="333.29" y="351.89" width="5.82" height="1.2" fill="#9A0027"/>
<rect x="347.10" y="388.20" width="9.90" height="19.50" fill="#2C4A84"/>
<path d="M347.50,407.70V388.60H356.60V407.70" fill="none" stroke="#21407D" stroke-width="0.8"/>
<rect x="349.28" y="387.20" width="5.54" height="1.2" fill="#21407D"/>
<rect x="362.70" y="394.23" width="10.00" height="13.47" fill="#A6002C"/>
<path d="M363.10,407.70V394.63H372.30V407.70" fill="none" stroke="#9A0027" stroke-width="0.8"/>
<rect x="364.90" y="393.23" width="5.60" height="1.2" fill="#9A0027"/>
<line x1="343.7" y1="407.7" x2="343.7" y2="410.2" stroke="#231F20" stroke-width="1.0"/>
<path d="M349.70,380.50 L349.70,378.80 Q349.70,377.90 350.60,377.90 L370.80,377.90 Q371.70,377.90 371.70,378.80 L371.70,380.50 M360.70,377.90 L360.70,375.10" fill="none" stroke="#231F20" stroke-width="1.15"/>
<circle cx="357.10" cy="371.10" r="1.2" fill="#231F20"/>
<circle cx="360.70" cy="371.10" r="1.2" fill="#231F20"/>
<circle cx="364.30" cy="371.10" r="1.2" fill="#231F20"/>
<text x="328.4" y="421.3" font-size="8.8" text-anchor="middle" textLength="26.4" lengthAdjust="spacingAndGlyphs" fill="#231F20">DMSO</text>
<text x="360.2" y="421.3" font-size="8.8" text-anchor="middle" textLength="15.9" lengthAdjust="spacingAndGlyphs" fill="#231F20">NTB</text>
<text x="359.5" y="431.3" font-size="8.8" text-anchor="middle" textLength="18.5" lengthAdjust="spacingAndGlyphs" fill="#231F20">5 µM</text>
<line x1="311.6" y1="436.5" x2="376.5" y2="436.5" stroke="#231F20" stroke-width="1.1"/>
<text x="343.9" y="446.6" font-size="8.8" text-anchor="middle" textLength="19.6" lengthAdjust="spacingAndGlyphs" fill="#231F20">OP-9</text>
<text transform="translate(273.7,370.5) rotate(-90)" font-size="10.0" text-anchor="middle" textLength="22.1" lengthAdjust="spacingAndGlyphs" fill="#231F20">TXL3</text>
<text transform="translate(286.5,371.9) rotate(-90)" font-size="9.8" text-anchor="middle" textLength="66.8" lengthAdjust="spacingAndGlyphs" fill="#231F20">% viability to initial</text>
<rect x="384.80" y="359.50" width="8.20" height="6.90" fill="#2C4A84"/>
<text x="396.4" y="365.8" font-size="8.4" text-anchor="start" textLength="16.4" lengthAdjust="spacingAndGlyphs" fill="#231F20">IgG1</text>
<rect x="384.80" y="375.10" width="8.20" height="6.90" fill="#A6002C"/>
<text x="396.4" y="381.6" font-size="8.4" text-anchor="start" textLength="51.8" lengthAdjust="spacingAndGlyphs" fill="#231F20">Anti-α6 P5G10</text>
<text x="9.5" y="475.2" font-size="12.3" text-anchor="start" font-weight="bold" fill="#231F20">Q</text>
<line x1="56.3" y1="489.8" x2="56.3" y2="565.9" stroke="#231F20" stroke-width="1.35"/>
<line x1="53.3" y1="565.3" x2="179.0" y2="565.3" stroke="#231F20" stroke-width="1.35"/>
<line x1="53.3" y1="565.3" x2="56.3" y2="565.3" stroke="#231F20" stroke-width="1.0"/>
<text x="50.7" y="568.0" font-size="8.4" text-anchor="end" fill="#231F20">0</text>
<line x1="53.3" y1="546.9749999999999" x2="56.3" y2="546.9749999999999" stroke="#231F20" stroke-width="1.0"/>
<text x="50.7" y="549.675" font-size="8.4" text-anchor="end" fill="#231F20">25</text>
<line x1="53.3" y1="528.65" x2="56.3" y2="528.65" stroke="#231F20" stroke-width="1.0"/>
<text x="50.7" y="531.35" font-size="8.4" text-anchor="end" fill="#231F20">50</text>
<line x1="53.3" y1="510.325" x2="56.3" y2="510.325" stroke="#231F20" stroke-width="1.0"/>
<text x="50.7" y="513.025" font-size="8.4" text-anchor="end" fill="#231F20">75</text>
<line x1="53.3" y1="492.0" x2="56.3" y2="492.0" stroke="#231F20" stroke-width="1.0"/>
<text x="50.7" y="494.7" font-size="8.4" text-anchor="end" fill="#231F20">100</text>
<rect x="62.50" y="552.25" width="10.00" height="13.05" fill="#2C4A84"/>
<path d="M62.90,565.30V552.65H72.10V565.30" fill="none" stroke="#21407D" stroke-width="0.8"/>
<line x1="67.5" y1="552.2525999999999" x2="67.5" y2="545.9488" stroke="#21407D" stroke-width="1.0"/>
<line x1="64.7" y1="545.9488" x2="70.3" y2="545.9488" stroke="#21407D" stroke-width="1.15"/>
<rect x="72.50" y="555.26" width="10.00" height="10.04" fill="#6AAA45"/>
<path d="M72.90,565.30V555.66H82.10V565.30" fill="none" stroke="#64AE3A" stroke-width="0.8"/>
<line x1="77.5" y1="555.2579" x2="77.5" y2="551.5196" stroke="#64AE3A" stroke-width="1.0"/>
<line x1="74.7" y1="551.5196" x2="80.3" y2="551.5196" stroke="#64AE3A" stroke-width="1.15"/>
<rect x="82.50" y="555.26" width="10.00" height="10.04" fill="#A6002C"/>
<path d="M82.90,565.30V555.66H92.10V565.30" fill="none" stroke="#9A0027" stroke-width="0.8"/>
<line x1="87.5" y1="555.2579" x2="87.5" y2="551.5196" stroke="#9A0027" stroke-width="1.0"/>
<line x1="84.7" y1="551.5196" x2="90.3" y2="551.5196" stroke="#9A0027" stroke-width="1.15"/>
<rect x="103.20" y="507.54" width="9.80" height="57.76" fill="#2C4A84"/>
<path d="M103.60,565.30V507.94H112.60V565.30" fill="none" stroke="#21407D" stroke-width="0.8"/>
<line x1="108.1" y1="507.5396" x2="108.1" y2="503.0683" stroke="#21407D" stroke-width="1.0"/>
<line x1="105.356" y1="503.0683" x2="110.844" y2="503.0683" stroke="#21407D" stroke-width="1.15"/>
<rect x="113.00" y="520.88" width="9.80" height="44.42" fill="#6AAA45"/>
<path d="M113.40,565.30V521.28H122.40V565.30" fill="none" stroke="#64AE3A" stroke-width="0.8"/>
<rect x="115.16" y="519.88" width="5.49" height="1.2" fill="#64AE3A"/>
<rect x="122.80" y="558.26" width="9.80" height="7.04" fill="#A6002C"/>
<path d="M123.20,565.30V558.66H132.20V565.30" fill="none" stroke="#9A0027" stroke-width="0.8"/>
<line x1="127.69999999999999" y1="558.2632" x2="127.69999999999999" y2="556.5039999999999" stroke="#9A0027" stroke-width="1.0"/>
<line x1="124.95599999999999" y1="556.5039999999999" x2="130.444" y2="556.5039999999999" stroke="#9A0027" stroke-width="1.15"/>
<rect x="143.30" y="516.63" width="10.00" height="48.67" fill="#2C4A84"/>
<path d="M143.70,565.30V517.03H152.90V565.30" fill="none" stroke="#21407D" stroke-width="0.8"/>
<line x1="148.3" y1="516.6288" x2="148.3" y2="514.5764" stroke="#21407D" stroke-width="1.0"/>
<line x1="145.5" y1="514.5764" x2="151.10000000000002" y2="514.5764" stroke="#21407D" stroke-width="1.15"/>
<rect x="153.30" y="530.63" width="10.20" height="34.67" fill="#6AAA45"/>
<path d="M153.70,565.30V531.03H163.10V565.30" fill="none" stroke="#64AE3A" stroke-width="0.8"/>
<line x1="158.4" y1="530.6291" x2="158.4" y2="528.4301" stroke="#64AE3A" stroke-width="1.0"/>
<line x1="155.544" y1="528.4301" x2="161.256" y2="528.4301" stroke="#64AE3A" stroke-width="1.15"/>
<rect x="163.50" y="547.19" width="10.20" height="18.11" fill="#A6002C"/>
<path d="M163.90,565.30V547.59H173.30V565.30" fill="none" stroke="#9A0027" stroke-width="0.8"/>
<line x1="168.6" y1="547.1949" x2="168.6" y2="544.4828" stroke="#9A0027" stroke-width="1.0"/>
<line x1="165.744" y1="544.4828" x2="171.456" y2="544.4828" stroke="#9A0027" stroke-width="1.15"/>
<line x1="77.5" y1="565.3" x2="77.5" y2="567.8" stroke="#231F20" stroke-width="1.0"/>
<line x1="118.0" y1="565.3" x2="118.0" y2="567.8" stroke="#231F20" stroke-width="1.0"/>
<line x1="158.4" y1="565.3" x2="158.4" y2="567.8" stroke="#231F20" stroke-width="1.0"/>
<path d="M106.20,500.00 L106.20,498.30 Q106.20,497.40 107.10,497.40 L120.50,497.40 Q121.40,497.40 121.40,498.30 L121.40,500.00 M113.80,497.40 L113.80,494.60" fill="none" stroke="#231F20" stroke-width="1.15"/>
<circle cx="112.00" cy="490.60" r="1.2" fill="#231F20"/>
<circle cx="115.60" cy="490.60" r="1.2" fill="#231F20"/>
<path d="M144.30,500.00 L144.30,498.30 Q144.30,497.40 145.20,497.40 L158.40,497.40 Q159.30,497.40 159.30,498.30 L159.30,500.00 M151.80,497.40 L151.80,494.60" fill="none" stroke="#231F20" stroke-width="1.15"/>
<circle cx="150.00" cy="490.60" r="1.2" fill="#231F20"/>
<circle cx="153.60" cy="490.60" r="1.2" fill="#231F20"/>
<path d="M104.70,478.70 L104.70,477.00 Q104.70,476.10 105.60,476.10 L129.20,476.10 Q130.10,476.10 130.10,477.00 L130.10,478.70 M117.40,476.10 L117.40,473.30" fill="none" stroke="#231F20" stroke-width="1.15"/>
<circle cx="113.80" cy="469.30" r="1.2" fill="#231F20"/>
<circle cx="117.40" cy="469.30" r="1.2" fill="#231F20"/>
<circle cx="121.00" cy="469.30" r="1.2" fill="#231F20"/>
<path d="M148.60,478.70 L148.60,477.00 Q148.60,476.10 149.50,476.10 L172.90,476.10 Q173.80,476.10 173.80,477.00 L173.80,478.70 M161.20,476.10 L161.20,473.30" fill="none" stroke="#231F20" stroke-width="1.15"/>
<circle cx="157.60" cy="469.30" r="1.2" fill="#231F20"/>
<circle cx="161.20" cy="469.30" r="1.2" fill="#231F20"/>
<circle cx="164.80" cy="469.30" r="1.2" fill="#231F20"/>
<text x="77.5" y="578.7" font-size="8.8" text-anchor="middle" textLength="23.8" lengthAdjust="spacingAndGlyphs" fill="#231F20">Media</text>
<text x="117.5" y="578.7" font-size="8.8" text-anchor="middle" textLength="35.5" lengthAdjust="spacingAndGlyphs" fill="#231F20">Laminin-1</text>
<text x="158.5" y="578.7" font-size="8.8" text-anchor="middle" textLength="17.4" lengthAdjust="spacingAndGlyphs" fill="#231F20">OP9</text>
<text transform="translate(18.3,527.5) rotate(-90)" font-size="10.0" text-anchor="middle" textLength="29.4" lengthAdjust="spacingAndGlyphs" fill="#231F20">LAX7R</text>
<text transform="translate(32.1,527.3) rotate(-90)" font-size="9.8" text-anchor="middle" textLength="40.0" lengthAdjust="spacingAndGlyphs" fill="#231F20">% adhesion</text>
<text x="195.0" y="474.9" font-size="12.3" text-anchor="start" font-weight="bold" fill="#231F20">R</text>
<line x1="242.9" y1="490.0" x2="242.9" y2="566.1" stroke="#231F20" stroke-width="1.35"/>
<line x1="239.9" y1="565.5" x2="364.8" y2="565.5" stroke="#231F20" stroke-width="1.35"/>
<line x1="239.9" y1="565.5" x2="242.9" y2="565.5" stroke="#231F20" stroke-width="1.0"/>
<text x="236.5" y="568.2" font-size="8.4" text-anchor="end" fill="#231F20">0</text>
<line x1="239.9" y1="547.25" x2="242.9" y2="547.25" stroke="#231F20" stroke-width="1.0"/>
<text x="236.5" y="549.95" font-size="8.4" text-anchor="end" fill="#231F20">25</text>
<line x1="239.9" y1="529.0" x2="242.9" y2="529.0" stroke="#231F20" stroke-width="1.0"/>
<text x="236.5" y="531.7" font-size="8.4" text-anchor="end" fill="#231F20">50</text>
<line x1="239.9" y1="510.75" x2="242.9" y2="510.75" stroke="#231F20" stroke-width="1.0"/>
<text x="236.5" y="513.45" font-size="8.4" text-anchor="end" fill="#231F20">75</text>
<line x1="239.9" y1="492.5" x2="242.9" y2="492.5" stroke="#231F20" stroke-width="1.0"/>
<text x="236.5" y="495.2" font-size="8.4" text-anchor="end" fill="#231F20">100</text>
<rect x="248.20" y="518.05" width="10.00" height="47.45" fill="#2C4A84"/>
<path d="M248.60,565.50V518.45H257.80V565.50" fill="none" stroke="#21407D" stroke-width="0.8"/>
<line x1="253.2" y1="518.05" x2="253.2" y2="511.48" stroke="#21407D" stroke-width="1.0"/>
<line x1="250.39999999999998" y1="511.48" x2="256.0" y2="511.48" stroke="#21407D" stroke-width="1.15"/>
<rect x="258.20" y="517.10" width="10.00" height="48.40" fill="#6AAA45"/>
<path d="M258.60,565.50V517.50H267.80V565.50" fill="none" stroke="#64AE3A" stroke-width="0.8"/>
<line x1="263.2" y1="517.101" x2="263.2" y2="515.13" stroke="#64AE3A" stroke-width="1.0"/>
<line x1="260.4" y1="515.13" x2="266.0" y2="515.13" stroke="#64AE3A" stroke-width="1.15"/>
<rect x="268.20" y="518.05" width="10.00" height="47.45" fill="#A6002C"/>
<path d="M268.60,565.50V518.45H277.80V565.50" fill="none" stroke="#9A0027" stroke-width="0.8"/>
<line x1="273.2" y1="518.05" x2="273.2" y2="514.546" stroke="#9A0027" stroke-width="1.0"/>
<line x1="270.4" y1="514.546" x2="276.0" y2="514.546" stroke="#9A0027" stroke-width="1.15"/>
<rect x="288.80" y="513.09" width="10.10" height="52.41" fill="#2C4A84"/>
<path d="M289.20,565.50V513.49H298.50V565.50" fill="none" stroke="#21407D" stroke-width="0.8"/>
<line x1="293.85" y1="513.086" x2="293.85" y2="506.808" stroke="#21407D" stroke-width="1.0"/>
<line x1="291.02200000000005" y1="506.808" x2="296.678" y2="506.808" stroke="#21407D" stroke-width="1.15"/>
<rect x="298.90" y="527.10" width="10.00" height="38.40" fill="#6AAA45"/>
<path d="M299.30,565.50V527.50H308.50V565.50" fill="none" stroke="#64AE3A" stroke-width="0.8"/>
<line x1="303.9" y1="527.102" x2="303.9" y2="524.62" stroke="#64AE3A" stroke-width="1.0"/>
<line x1="301.09999999999997" y1="524.62" x2="306.7" y2="524.62" stroke="#64AE3A" stroke-width="1.15"/>
<rect x="308.90" y="523.16" width="9.90" height="42.34" fill="#A6002C"/>
<path d="M309.30,565.50V523.56H318.40V565.50" fill="none" stroke="#9A0027" stroke-width="0.8"/>
<line x1="313.85" y1="523.16" x2="313.85" y2="521.846" stroke="#9A0027" stroke-width="1.0"/>
<line x1="311.07800000000003" y1="521.846" x2="316.622" y2="521.846" stroke="#9A0027" stroke-width="1.15"/>
<rect x="329.30" y="511.33" width="9.90" height="54.17" fill="#2C4A84"/>
<path d="M329.70,565.50V511.73H338.80V565.50" fill="none" stroke="#21407D" stroke-width="0.8"/>
<line x1="334.25" y1="511.334" x2="334.25" y2="505.786" stroke="#21407D" stroke-width="1.0"/>
<line x1="331.478" y1="505.786" x2="337.022" y2="505.786" stroke="#21407D" stroke-width="1.15"/>
<rect x="339.20" y="525.13" width="10.00" height="40.37" fill="#6AAA45"/>
<path d="M339.60,565.50V525.53H348.80V565.50" fill="none" stroke="#64AE3A" stroke-width="0.8"/>
<line x1="344.2" y1="525.131" x2="344.2" y2="521.846" stroke="#64AE3A" stroke-width="1.0"/>
<line x1="341.4" y1="521.846" x2="347.0" y2="521.846" stroke="#64AE3A" stroke-width="1.15"/>
<rect x="349.20" y="526.59" width="10.00" height="38.91" fill="#A6002C"/>
<path d="M349.60,565.50V526.99H358.80V565.50" fill="none" stroke="#9A0027" stroke-width="0.8"/>
<line x1="354.2" y1="526.591" x2="354.2" y2="520.605" stroke="#9A0027" stroke-width="1.0"/>
<line x1="351.4" y1="520.605" x2="357.0" y2="520.605" stroke="#9A0027" stroke-width="1.15"/>
<line x1="263.2" y1="565.5" x2="263.2" y2="568.0" stroke="#231F20" stroke-width="1.0"/>
<line x1="303.8" y1="565.5" x2="303.8" y2="568.0" stroke="#231F20" stroke-width="1.0"/>
<line x1="344.0" y1="565.5" x2="344.0" y2="568.0" stroke="#231F20" stroke-width="1.0"/>
<path d="M290.90,499.00 L290.90,497.30 Q290.90,496.40 291.80,496.40 L304.20,496.40 Q305.10,496.40 305.10,497.30 L305.10,499.00 M298.00,496.40 L298.00,493.60" fill="none" stroke="#231F20" stroke-width="1.15"/>
<circle cx="298.00" cy="489.60" r="1.2" fill="#231F20"/>
<path d="M332.20,499.00 L332.20,497.30 Q332.20,496.40 333.10,496.40 L346.10,496.40 Q347.00,496.40 347.00,497.30 L347.00,499.00 M339.60,496.40 L339.60,493.60" fill="none" stroke="#231F20" stroke-width="1.15"/>
<circle cx="339.60" cy="489.60" r="1.2" fill="#231F20"/>
<path d="M288.00,478.90 L288.00,477.20 Q288.00,476.30 288.90,476.30 L312.60,476.30 Q313.50,476.30 313.50,477.20 L313.50,478.90 M300.75,476.30 L300.75,473.50" fill="none" stroke="#231F20" stroke-width="1.15"/>
<text x="300.75" y="470.7" font-size="8.4" text-anchor="middle" textLength="10.6" lengthAdjust="spacingAndGlyphs" fill="#231F20">NS</text>
<path d="M331.60,478.80 L331.60,477.10 Q331.60,476.20 332.50,476.20 L355.70,476.20 Q356.60,476.20 356.60,477.10 L356.60,478.80 M344.10,476.20 L344.10,473.40" fill="none" stroke="#231F20" stroke-width="1.15"/>
<circle cx="342.30" cy="469.40" r="1.2" fill="#231F20"/>
<circle cx="345.90" cy="469.40" r="1.2" fill="#231F20"/>
<text x="263.7" y="578.7" font-size="8.8" text-anchor="middle" textLength="23.8" lengthAdjust="spacingAndGlyphs" fill="#231F20">Media</text>
<text x="303.0" y="578.7" font-size="8.8" text-anchor="middle" textLength="35.5" lengthAdjust="spacingAndGlyphs" fill="#231F20">Laminin-1</text>
<text x="344.2" y="578.7" font-size="8.8" text-anchor="middle" textLength="16.6" lengthAdjust="spacingAndGlyphs" fill="#231F20">OP9</text>
<text transform="translate(203.8,527.8) rotate(-90)" font-size="10.0" text-anchor="middle" textLength="30.4" lengthAdjust="spacingAndGlyphs" fill="#231F20">LAX7R</text>
<text transform="translate(217.0,526.7) rotate(-90)" font-size="9.8" text-anchor="middle" textLength="35.6" lengthAdjust="spacingAndGlyphs" fill="#231F20">% viability</text>
<rect x="374.50" y="509.20" width="7.30" height="6.60" fill="#2C4A84"/>
<text x="385.5" y="515.4" font-size="8.4" text-anchor="start" textLength="16.2" lengthAdjust="spacingAndGlyphs" fill="#231F20">IgG1</text>
<rect x="374.50" y="524.20" width="7.30" height="6.60" fill="#6AAA45"/>
<text x="385.5" y="530.4" font-size="8.4" text-anchor="start" textLength="44.2" lengthAdjust="spacingAndGlyphs" fill="#231F20">Anti-α6&#160; J8H</text>
<rect x="374.50" y="539.20" width="7.30" height="6.60" fill="#A6002C"/>
<text x="385.5" y="545.4" font-size="8.4" text-anchor="start" textLength="54.2" lengthAdjust="spacingAndGlyphs" fill="#231F20">Anti-α6&#160; P5G10</text>
</svg>
</body></html>
